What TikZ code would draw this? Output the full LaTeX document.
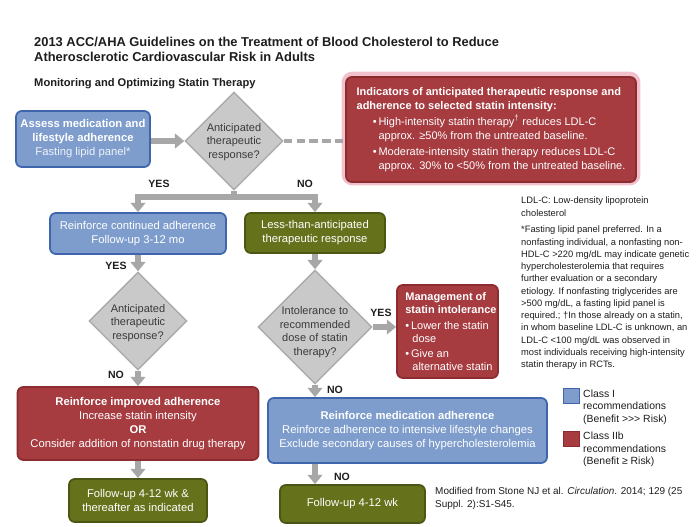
\documentclass[tikz,border=0pt]{standalone}
\usepackage{fontspec}
\setmainfont{Liberation Sans}
\usetikzlibrary{shapes.geometric,arrows.meta}
\definecolor{bfill}{HTML}{7E9DCC}
\definecolor{bdraw}{HTML}{3F66AD}
\definecolor{rfill}{HTML}{A63B40}
\definecolor{rdraw}{HTML}{8C2C31}
\definecolor{gfill}{HTML}{66711B}
\definecolor{gdraw}{HTML}{4C5613}
\definecolor{dfill}{HTML}{C9C9C9}
\definecolor{ddraw}{HTML}{ABABAB}
\definecolor{arrowc}{HTML}{A7A7A7}
\definecolor{glowc}{HTML}{F2C2CC}
\definecolor{txtc}{HTML}{1E1E1E}
\definecolor{dtxtc}{HTML}{3A3A3A}
\newcommand\boxfont{\fontsize{9.6}{12}\selectfont}
\newcommand\dfont{\fontsize{9.4}{11.5}\selectfont}
\newcommand\labfont{\fontsize{9}{11}\selectfont\bfseries}
\newcommand\notefont{\fontsize{7.95}{10.45}\selectfont}
\newcommand\citefont{\fontsize{8.5}{10.8}\selectfont}
\newcommand\legfont{\fontsize{8.9}{10.6}\selectfont}
\newcommand\ttlfont{\fontsize{11}{13}\selectfont\bfseries}
\newcommand\subfont{\fontsize{9.5}{12}\selectfont\bfseries}
\begin{document}
\begin{tikzpicture}[x=0.03cm,y=-0.03cm,
  box/.style={rounded corners=5pt, line width=1.5pt, align=center, inner sep=2pt, font=\boxfont, text=white},
  bluebox/.style={box, fill=bfill, draw=bdraw},
  redbox/.style={box, fill=rfill, draw=rdraw},
  greenbox/.style={box, fill=gfill, draw=gdraw},
  decision/.style={diamond, aspect=1, inner sep=0pt, fill=dfill, draw=ddraw, line width=1.2pt},
  dtext/.style={align=center, font=\dfont, text=dtxtc, inner sep=0pt},
  flow/.style={draw=arrowc, line width=5pt, -{Triangle[width=12.5pt,length=8pt]}},
  lab/.style={font=\labfont, text=txtc, inner sep=0pt},
  note/.style={font=\notefont, text=txtc, inner sep=0pt, align=left, anchor=north west},
  leg/.style={font=\legfont, text=txtc, inner sep=0pt, align=left, anchor=north west},
  legsq/.style={minimum width=0.48cm, minimum height=0.45cm, inner sep=0pt, line width=0.6pt}
]
\useasboundingbox (0,0) rectangle (700,526);
\fill[white] (0,0) rectangle (700,526);

% titles
\node[font=\ttlfont, text=txtc, anchor=base west, inner sep=0pt] (t1) at (34,46.5) {2013 ACC/AHA Guidelines on the Treatment of Blood Cholesterol to Reduce};
\node[font=\ttlfont, text=txtc, anchor=base west, inner sep=0pt] (t2) at (34,61.8) {Atherosclerotic Cardiovascular Risk in Adults};
\node[font=\subfont, text=txtc, anchor=base west, inner sep=0pt] (st) at (34,86) {Monitoring and Optimizing Statin Therapy};

% glow of top red box
\draw[glowc, line width=4pt, rounded corners=7pt] (344,74) rectangle (638,183);

% nodes
\node[bluebox, minimum width=4.02cm, minimum height=1.68cm] (b1) at (83,139)
  {\textbf{Assess medication and}\\\textbf{lifestyle adherence}\\{\color{white!88!bfill}Fasting lipid panel*}};
\node[decision, minimum size=2.94cm] (d1) at (234,141) {};
\node[dtext] (d1t) at (234,142) {Anticipated\\therapeutic\\response?};

\node[redbox, minimum width=8.7cm, minimum height=3.15cm, align=left, font=\fontsize{9.4}{11.8}\selectfont] (r1) at (491,129.5)
  {\textbf{Indicators of anticipated therapeutic response and}\\
   \textbf{adherence to selected statin intensity:}\\[2pt]
   \hspace*{18.7pt}\llap{\textbullet\,}High-intensity statin therapy\textsuperscript{\textdagger} reduces LDL-C\\
   \hspace*{18.7pt}approx. ≥50\% from the untreated baseline.\\[2pt]
   \hspace*{18.7pt}\llap{\textbullet\,}Moderate-intensity statin therapy reduces LDL-C\\
   \hspace*{18.7pt}approx. 30\% to <50\% from the untreated baseline.};

\node[bluebox, minimum width=5.28cm, minimum height=1.23cm] (b2) at (138,233.5)
  {Reinforce continued adherence\\Follow-up 3-12 mo};
\node[greenbox, minimum width=4.2cm, minimum height=1.2cm] (g1) at (315,233)
  {Less-than-anticipated\\therapeutic response};

\node[decision, minimum size=2.94cm] (d2) at (138,321) {};
\node[dtext] (d2t) at (138,323) {Anticipated\\therapeutic\\response?};

\node[decision, minimum size=3.42cm] (d3) at (315,327) {};
\node[dtext] (d3t) at (315,332) {Intolerance to\\recommended\\dose of statin\\therapy?};

\node[redbox, minimum width=3.03cm, minimum height=2.79cm] (r3) at (447.5,331.5) {};
\node[font=\fontsize{9.4}{11.3}\selectfont, text=white, align=left, inner sep=0pt, anchor=west] (r3t) at ([xshift=0.27cm]r3.west)
  {\textbf{Management of}\\\textbf{statin intolerance}\\[2.5pt]
   \textbullet\,Lower the statin\\\hspace*{6pt}dose\\[1.5pt]
   \textbullet\,Give an\\\hspace*{6pt}alternative statin};

\node[redbox, minimum width=7.23cm, minimum height=2.19cm] (r2) at (138,423.5)
  {\textbf{Reinforce improved adherence}\\Increase statin intensity\\\textbf{OR}\\Consider addition of nonstatin drug therapy};
\node[greenbox, minimum width=4.14cm, minimum height=1.29cm] (g2) at (138,500.5)
  {Follow-up 4-12 wk \&\\thereafter as indicated};

\node[bluebox, minimum width=8.37cm, minimum height=1.95cm] (b3) at (407.5,430.5)
  {\textbf{Reinforce medication adherence}\\Reinforce adherence to intensive lifestyle changes\\Exclude secondary causes of hypercholesterolemia};
\node[greenbox, minimum width=4.35cm, minimum height=1.14cm] (g3) at (352.5,504)
  {Follow-up 4-12 wk};

% connectors
\coordinate (split) at (234,197);
\draw[flow] (b1.east |- d1.west) -- (d1.west);
\draw[draw=arrowc, line width=2.6pt, dash pattern=on 7pt off 4pt] (d1.east) -- (d1.east -| r1.west);
\draw[draw=arrowc, line width=5pt] (d1.south) -- (split);
\draw[flow] (split) -| (b2.north);
\draw[flow] (split) -| (g1.north);
\draw[flow] (b2.south) -- (d2.north);
\draw[flow] (d2.south) -- (r2.north);
\draw[flow] (r2.south) -- (g2.north);
\draw[flow] (g1.south) -- (d3.north);
\draw[flow] (d3.east) -- (d3.east -| r3.west);
\draw[flow] (d3.south) -- (d3.south |- b3.north);
\draw[flow] (b3.south -| d3.south) -- (g3.north -| d3.south);

% labels
\node[lab] (yes1) at (159,184) {YES};
\node[lab] (no1) at (305,184) {NO};
\node[lab] (yes2) at (116,265.5) {YES};
\node[lab] (no2) at (116,375) {NO};
\node[lab] (yes3) at (381,313) {YES};
\node[lab] (no3) at (335,389.5) {NO};
\node[lab] (no4) at (342,476.5) {NO};

% notes
\node[note] (fn1) at (521,197) {LDL-C: Low-density lipoprotein\\cholesterol};
\node[note] (fn2) at (521,226) {*Fasting lipid panel preferred. In a\\
nonfasting individual, a nonfasting non-\\
HDL-C >220 mg/dL may indicate genetic\\
hypercholesterolemia that requires\\
further evaluation or a secondary\\
etiology. If nonfasting triglycerides are\\
>500 mg/dL, a fasting lipid panel is\\
required.; \textdagger In those already on a statin,\\
in whom baseline LDL-C is unknown, an\\
LDL-C <100 mg/dL was observed in\\
most individuals receiving high-intensity\\
statin therapy in RCTs.};

% legend
\node[legsq, fill=bfill, draw=bdraw] (lb) at (571,395.5) {};
\node[leg] (lbt) at (583,389.5) {Class I\\recommendations\\(Benefit {>}{>}{>} Risk)};
\node[legsq, fill=rfill, draw=rdraw] (lr) at (571,438.5) {};
\node[leg] (lrt) at (583,432) {Class IIb\\recommendations\\(Benefit ≥ Risk)};

% citation
\node[note, font=\citefont] (cite) at (435,487.5) {Modified from Stone NJ et al. \textit{Circulation}. 2014; 129 (25\\Suppl. 2):S1-S45.};
\end{tikzpicture}
\end{document}
